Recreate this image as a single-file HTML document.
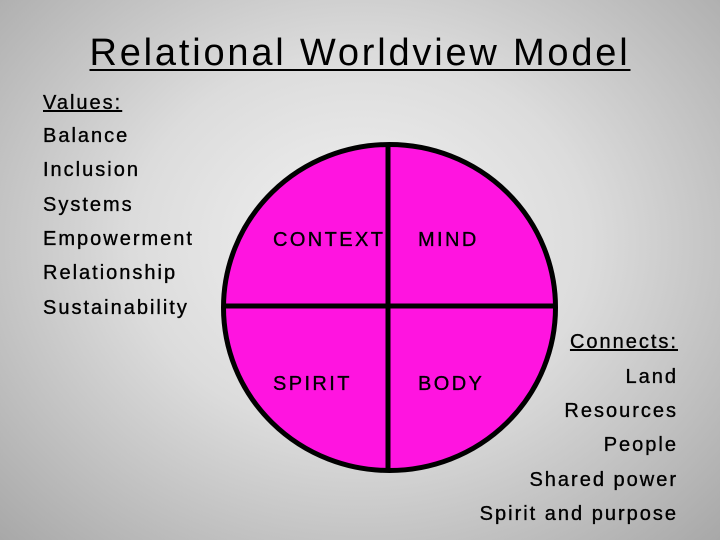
<!DOCTYPE html>
<html><head><style>
body{margin:0;width:720px;height:540px;overflow:hidden;background:radial-gradient(ellipse at 50% 45%,#f2f2f2 0%,#dcdcdc 45%,#a8a8a8 100%);font-family:"Liberation Sans",sans-serif;position:relative}
.t{position:absolute;white-space:nowrap;color:#000;letter-spacing:2px;-webkit-text-stroke:0.35px #000}
</style></head><body>
<div class="t" style="left:0;width:720px;text-align:center;top:32px;font-size:38px;letter-spacing:2.8px;-webkit-text-stroke:0;text-decoration:underline;text-decoration-thickness:2px;text-underline-offset:4px">Relational Worldview Model</div>
<div class="t" style="left:43px;top:92px;font-size:20px;text-decoration:underline">Values:</div>
<div class="t" style="left:43px;top:125px;font-size:20px">Balance</div>
<div class="t" style="left:43px;top:159px;font-size:20px">Inclusion</div>
<div class="t" style="left:43px;top:194px;font-size:20px">Systems</div>
<div class="t" style="left:43px;top:228px;font-size:20px">Empowerment</div>
<div class="t" style="left:43px;top:262px;font-size:20px">Relationship</div>
<div class="t" style="left:43px;top:297px;font-size:20px">Sustainability</div>
<svg style="position:absolute;left:0;top:0" width="720" height="540">
<ellipse cx="389.5" cy="307.5" rx="166" ry="163" fill="#ff14e0" stroke="#000" stroke-width="5"/>
<line x1="388" y1="144" x2="388" y2="471" stroke="#000" stroke-width="5"/>
<line x1="223" y1="306" x2="556" y2="306" stroke="#000" stroke-width="5"/>
<g font-family="Liberation Sans, sans-serif" font-size="20" fill="#000" stroke="#000" stroke-width="0.35" letter-spacing="2.4">
<text x="273" y="246">CONTEXT</text>
<text x="418" y="246">MIND</text>
<text x="273" y="390">SPIRIT</text>
<text x="418" y="390">BODY</text>
</g>
</svg>
<div class="t" style="right:42px;top:331px;font-size:20px;text-decoration:underline">Connects:</div>
<div class="t" style="right:42px;top:366px;font-size:20px">Land</div>
<div class="t" style="right:42px;top:400px;font-size:20px">Resources</div>
<div class="t" style="right:42px;top:434px;font-size:20px">People</div>
<div class="t" style="right:42px;top:469px;font-size:20px">Shared power</div>
<div class="t" style="right:42px;top:503px;font-size:20px">Spirit and purpose</div>
</body></html>
